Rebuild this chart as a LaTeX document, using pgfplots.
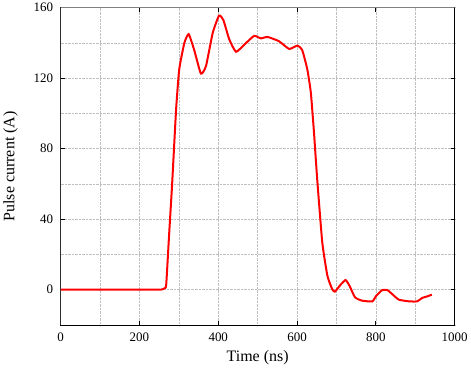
\documentclass[border=0pt]{standalone}
\usepackage{fontspec}
\setmainfont{Liberation Serif}
\usepackage{pgfplots}
\pgfplotsset{compat=1.18}
\begin{document}
\begin{tikzpicture}
\begin{axis}[
  scale only axis,
  width=395pt, height=318pt,
  xmin=0, xmax=1000, ymin=-20, ymax=160,
  xtick={0,200,...,1000}, ytick={0,40,...,160},
  minor xtick={100,300,...,900}, minor ytick={-20,20,60,100,140},
  grid=both,
  major grid style={gray!50, densely dotted, line width=0.6pt},
  minor grid style={gray!50, densely dotted, line width=0.6pt},
  tick align=inside,
  major tick length=4pt, minor tick length=0pt,
  tick style={black, line width=0.8pt},
  axis line style={black, line width=0.9pt},
  xlabel={Time (ns)}, ylabel={Pulse current (A)},
  /pgf/number format/assume math mode=true,
  ticklabel style={font=\fontsize{13}{15}\selectfont},
  label style={font=\fontsize{16}{18}\selectfont},
  xlabel style={yshift=-2pt},
  ylabel style={yshift=9pt},
  xticklabel style={yshift=-4pt},
  yticklabel style={xshift=-4pt},
  scaled ticks=false,
  /pgf/number format/1000 sep={},
]
\addplot[red, line width=2pt, smooth, tension=0.3] coordinates {
(0,0) (50,0) (100,0) (150,0) (200,0) (230,0) (250,0) (258,0.2) (264,0.8) (268,3) (275,30) (283,60) (293,102) (301,125) (314,140) (325,145) (339,136) (356,122.6) (369,127) (386,145.7) (402,155.5) (413,153) (428,142) (445,135) (466,139) (491,144) (508,142.6) (525,143.4) (554,141) (580,136.6) (601,138.5) (613,136) (626,125) (635,111.7) (643,89) (651,63) (664,26.8) (677,7.9) (689,0.4) (696,-1.1) (710,2.7) (723,5.5) (733,2.3) (747,-4.3) (765,-6.2) (791,-6.6) (801,-3.4) (816,-0.2) (829,-0.2) (841,-2.4) (858,-5.6) (884,-6.6) (905,-6.6) (917,-4.7) (930,-3.8) (942,-2.8)
};
\draw[gray, line width=1.4pt] (rel axis cs:0,0) -- (rel axis cs:0,1) -- (rel axis cs:1,1);
\end{axis}
\end{tikzpicture}
\end{document}
